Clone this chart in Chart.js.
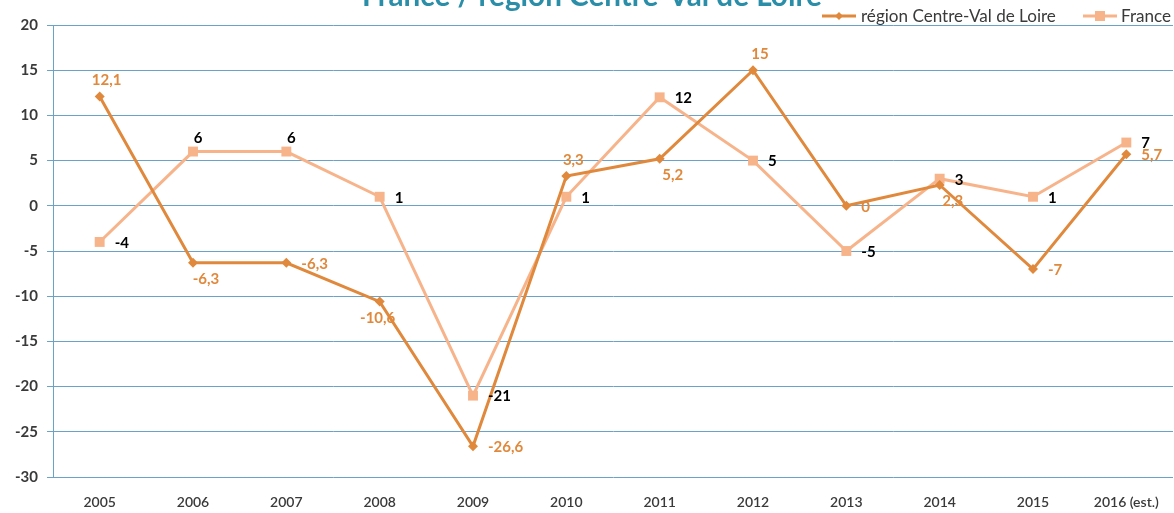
<!DOCTYPE html>
<html>
<head>
<meta charset="utf-8">
<script src="https://cdn.jsdelivr.net/npm/chart.js@4/dist/chart.umd.min.js"></script>
<style>
  html, body { margin: 0; padding: 0; background: #ffffff; overflow: hidden; }
  #wrap { width: 1174px; height: 513px; overflow: hidden; position: relative; }
  #c { position: absolute; left: 0; top: 0; width: 1180px; height: 513px; }
</style>
</head>
<body>
<div id="wrap"><canvas id="c" width="1180" height="513"></canvas></div>
<script>
const categories = ['2005','2006','2007','2008','2009','2010','2011','2012','2013','2014','2015','2016 (est.)'];
const regionValues = [12.1, -6.3, -6.3, -10.6, -26.6, 3.3, 5.2, 15, 0, 2.3, -7, 5.7];
const franceValues = [-4, 6, 6, 1, -21, 1, 12, 5, -5, 3, 1, 7];
const regionName = 'région Centre-Val de Loire';
const franceName = 'France';
const titleText = 'France / région Centre-Val de Loire';
const yMin = -30, yMax = 20, yStep = 5;

// label placement (style only)
const regionLabelPos = ['above','belowRight','right','below','right','above','belowRight','above','right','belowRight','right','right'];
const franceLabelPos = ['right','aboveRight','aboveRight','right','right','right','right','right','right','right','right','right'];

const REGION_COLOR = '#e0893c';
const FRANCE_COLOR = '#f7b48b';
const GRID_COLOR = '#6aa3c6';
const TEXT_COLOR = '#3a3a3a';
const FONT = 'Lato, "Open Sans", sans-serif';

const fmt = v => String(v).replace('.', ',');

function fitFont(ctx, text, weight, target) {
  ctx.font = weight + ' 20px ' + FONT;
  const w = ctx.measureText(text).width;
  return weight + ' ' + (20 * target / w).toFixed(2) + 'px ' + FONT;
}

const labelPlugin = {
  id: 'labels',
  afterDatasetsDraw(chart) {
    const ctx = chart.ctx;
    ctx.save();
    ctx.font = 'bold 15px ' + FONT;
    const sets = [
      {meta: chart.getDatasetMeta(0), vals: regionValues, pos: regionLabelPos, color: REGION_COLOR},
      {meta: chart.getDatasetMeta(1), vals: franceValues, pos: franceLabelPos, color: '#000000'}
    ];
    sets.forEach(s => {
      s.meta.data.forEach((pt, i) => {
        const t = fmt(s.vals[i]);
        let x = pt.x, y = pt.y;
        const p = s.pos[i];
        ctx.fillStyle = s.color;
        ctx.textBaseline = 'middle';
        if (p === 'above') { ctx.textAlign = 'center'; x += 7; y -= 16; }
        else if (p === 'below') { ctx.textAlign = 'center'; x -= 2; y += 17; }
        else if (p === 'belowRight') { ctx.textAlign = 'center'; x += 13; y += 16; }
        else if (p === 'aboveRight') { ctx.textAlign = 'center'; x += 5; y -= 13; }
        else { ctx.textAlign = 'left'; x += 15; y += 1; }
        ctx.fillText(t, x, y);
      });
    });
    ctx.restore();
  }
};

const decorPlugin = {
  id: 'decor',
  afterDraw(chart) {
    const ctx = chart.ctx;
    ctx.save();
    // title (partly cut at top)
    ctx.font = fitFont(ctx, titleText, 'bold', 460);
    ctx.fillStyle = '#2b8ea9';
    ctx.textAlign = 'center';
    ctx.textBaseline = 'alphabetic';
    ctx.fillText(titleText, 592, 6);
    // legend
    const ly = 16;
    ctx.lineWidth = 3;
    ctx.strokeStyle = REGION_COLOR;
    ctx.beginPath(); ctx.moveTo(822, ly); ctx.lineTo(856, ly); ctx.stroke();
    ctx.fillStyle = REGION_COLOR;
    ctx.beginPath(); ctx.moveTo(839, ly-4); ctx.lineTo(843, ly); ctx.lineTo(839, ly+4); ctx.lineTo(835, ly); ctx.closePath(); ctx.fill();
    ctx.strokeStyle = FRANCE_COLOR;
    ctx.beginPath(); ctx.moveTo(1083, ly); ctx.lineTo(1117, ly); ctx.stroke();
    ctx.fillStyle = FRANCE_COLOR;
    ctx.fillRect(1095, ly-5, 10, 10);
    ctx.font = fitFont(ctx, regionName, 'normal', 195);
    ctx.fillStyle = TEXT_COLOR;
    ctx.textAlign = 'left';
    ctx.textBaseline = 'middle';
    ctx.fillText(regionName, 861, ly);
    ctx.fillText(franceName, 1121, ly);
    ctx.restore();
  }
};

new Chart(document.getElementById('c'), {
  type: 'line',
  data: {
    labels: categories,
    datasets: [
      {
        label: regionName,
        data: regionValues,
        borderColor: REGION_COLOR,
        backgroundColor: REGION_COLOR,
        borderWidth: 3,
        pointStyle: 'rectRot',
        pointRadius: 5,
        pointBorderWidth: 0,
        tension: 0,
        order: 0
      },
      {
        label: franceName,
        data: franceValues,
        borderColor: FRANCE_COLOR,
        backgroundColor: FRANCE_COLOR,
        borderWidth: 3,
        pointStyle: 'rect',
        pointRadius: 7,
        pointBorderWidth: 0,
        tension: 0,
        order: 1
      }
    ]
  },
  options: {
    responsive: false,
    animation: false,
    layout: { padding: { top: 25, right: 2, left: 0, bottom: 0 } },
    plugins: {
      legend: { display: false },
      title: { display: false },
      tooltip: { enabled: false }
    },
    scales: {
      x: {
        type: 'category',
        offset: true,
        grid: { display: false },
        border: { display: false },
        ticks: { color: TEXT_COLOR, font: { family: FONT, size: 14, weight: '600' }, padding: 9, maxRotation: 0, autoSkip: false },
        afterFit(s) { s.height = 36; }
      },
      y: {
        min: yMin,
        max: yMax,
        grid: { color: GRID_COLOR, lineWidth: 1, tickLength: 6, drawTicks: true },
        border: { display: true, color: GRID_COLOR, width: 1 },
        ticks: { stepSize: yStep, color: TEXT_COLOR, font: { family: FONT, size: 15, weight: 'bold' }, padding: 9 },
        afterFit(s) { s.width = 53; }
      }
    }
  },
  plugins: [labelPlugin, decorPlugin]
});
</script>
</body>
</html>
